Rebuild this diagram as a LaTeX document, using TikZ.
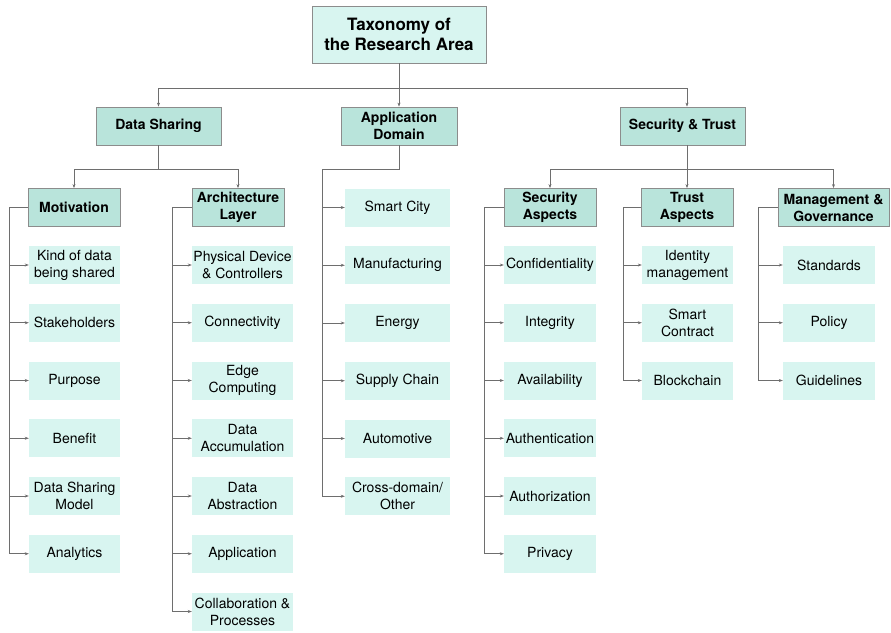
\documentclass[tikz,border=0pt]{standalone}
\usepackage{fontspec}
\setmainfont{TeX Gyre Heros}
\usetikzlibrary{arrows.meta}

\definecolor{leafmint}{HTML}{D8F5F0}
\definecolor{catmint}{HTML}{B9E4DB}
\definecolor{edgegray}{HTML}{8C8C8C}
\definecolor{linegray}{HTML}{6E6E6E}

\tikzset{
  root/.style={draw=edgegray, fill=leafmint, line width=0.8pt, minimum width=174pt, minimum height=57pt, inner sep=0pt, align=center, font=\fontsize{17}{20}\selectfont\bfseries},
  cat/.style={draw=edgegray, fill=catmint, line width=0.8pt, minimum height=38pt, inner sep=0pt, align=center, font=\fontsize{14}{17}\selectfont\bfseries},
  leaf/.style={fill=leafmint, minimum height=38pt, inner sep=0pt, align=center, font=\fontsize{14}{17}\selectfont},
  arr/.style={draw=linegray, line width=0.6pt, -{Stealth[length=4pt,width=3pt]}}
}

\begin{document}
\begin{tikzpicture}[x=1pt,y=-1pt]
\useasboundingbox (0,0) rectangle (891,632);

% \draw[color=gray,step=50] (0,0) grid (891,632);

\node[root] (tax) at (399,34.5) {Taxonomy of\\the Research Area};

\node[cat,minimum width=125pt] (ds) at (158.5,126) {Data Sharing};
\node[cat,minimum width=116pt] (ad) at (399,126) {Application\\Domain};
\node[cat,minimum width=125pt] (st) at (682.5,126) {Security \& Trust};

\node[cat,minimum width=92pt] (mot) at (74,207.5) {Motivation};
\node[cat,minimum width=92pt] (arch) at (238,207.5) {Architecture\\Layer};
\node[cat,minimum width=92pt] (sa) at (550,207.5) {Security\\Aspects};
\node[cat,minimum width=92pt] (ta) at (687,207.5) {Trust\\Aspects};
\node[cat,minimum width=111pt] (mg) at (833.5,207.5) {Management \&\\Governance};

\draw[arr] (tax.south) -- ++(0,25) -| (ds.north);
\draw[arr] (tax.south) -- (ad.north);
\draw[arr] (tax.south) -- ++(0,25) -| (ta.north |- st.north);

\draw[arr] (ds.south) -- ++(0,24) -| (mot.north);
\draw[arr] (ds.south) -- ++(0,24) -| (arch.north);
\draw[arr] (ta.north |- st.south) -- ++(0,24) -| (sa.north);
\draw[arr] (ta.north |- st.south) -- (ta.north);
\draw[arr] (ta.north |- st.south) -- ++(0,24) -| (mg.north);

% leaves
\foreach \t [count=\i] in {{Kind of data\\being shared},Stakeholders,Purpose,Benefit,{Data Sharing\\Model},Analytics}{
  \node[leaf,minimum width=91pt] (mot\i) at (74.5,{265+57.75*(\i-1)}) {\t};
  \draw[arr] (mot.west) -- ++(-18,0) |- (mot\i.west);
}
\foreach \t [count=\i] in {{Physical Device\\\& Controllers},Connectivity,{Edge\\Computing},{Data\\Accumulation},{Data\\Abstraction},Application,{Collaboration \&\\Processes}}{
  \node[leaf,minimum width=101pt] (arch\i) at (242.5,{265+57.75*(\i-1)}) {\t};
  \draw[arr] (arch.west) -- ++(-19,0) |- (arch\i.west);
}
\foreach \t [count=\i] in {Smart City,Manufacturing,Energy,Supply Chain,Automotive,{Cross-domain/\\Other}}{
  \node[leaf,minimum width=105pt] (ad\i) at (397.5,{207.5+57.75*(\i-1)}) {\t};
  \draw[arr] (ad.south) -- ++(0,24) -- ++(-77,0) |- (ad\i.west);
}
\foreach \t [count=\i] in {Confidentiality,Integrity,Availability,Authentication,Authorization,Privacy}{
  \node[leaf,minimum width=92pt] (sa\i) at (550,{265+57.75*(\i-1)}) {\t};
  \draw[arr] (sa.west) -- ++(-19,0) |- (sa\i.west);
}
\foreach \t [count=\i] in {{Identity\\management},{Smart\\Contract},Blockchain}{
  \node[leaf,minimum width=91pt] (ta\i) at (687.5,{265+57.75*(\i-1)}) {\t};
  \draw[arr] (ta.west) -- ++(-17,0) |- (ta\i.west);
}
\foreach \t [count=\i] in {Standards,Policy,Guidelines}{
  \node[leaf,minimum width=92pt] (mg\i) at (829,{265+57.75*(\i-1)}) {\t};
  \draw[arr] (mg.west) -- ++(-19,0) |- (mg\i.west);
}

\end{tikzpicture}
\end{document}
